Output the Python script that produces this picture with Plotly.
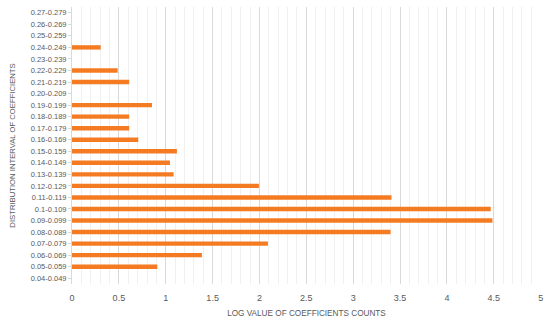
import plotly.graph_objects as go

categories = ["0.04-0.049", "0.05-0.059", "0.06-0.069", "0.07-0.079", "0.08-0.089",
              "0.09-0.099", "0.1-0.109", "0.11-0.119", "0.12-0.129", "0.13-0.139",
              "0.14-0.149", "0.15-0.159", "0.16-0.169", "0.17-0.179", "0.18-0.189",
              "0.19-0.199", "0.20-0.209", "0.21-0.219", "0.22-0.229", "0.23-0.239",
              "0.24-0.249", "0.25-0.259", "0.26-0.269", "0.27-0.279"]
values = [0, 0.91, 1.386, 2.09, 3.398,
          4.485, 4.467, 3.408, 1.994, 1.084,
          1.045, 1.119, 0.707, 0.61, 0.61,
          0.853, 0, 0.61, 0.487, 0,
          0.306, 0, 0, 0]
x_ticks = [0, 0.5, 1, 1.5, 2, 2.5, 3, 3.5, 4, 4.5, 5]
x_title = "LOG VALUE OF COEFFICIENTS COUNTS"
y_title = "DISTRIBUTION INTERVAL OF COEFFICIENTS"

fig = go.Figure(go.Bar(
    x=values, y=categories, orientation="h",
    marker=dict(color="#F47B22", line=dict(width=0)),
))

fig.update_layout(
    width=550, height=322,
    margin=dict(l=72, r=9, t=7, b=38),
    plot_bgcolor="white", paper_bgcolor="white",
    bargap=0.62,
    showlegend=False,
    font=dict(family="Liberation Sans", size=8, color="#595959"),
    xaxis=dict(
        range=[0, 5.003], tickvals=x_ticks, ticktext=[str(v) for v in x_ticks],
        showgrid=True, gridcolor="#d9d9d9", gridwidth=1,
        minor=dict(dtick=0.1, showgrid=True, gridcolor="#f0f0f0", gridwidth=1),
        zeroline=False, showline=False, ticks="",
        ticklabelstandoff=7,
        automargin=False,
        tickfont=dict(size=9, color="#595959"),
        title=dict(text=x_title, font=dict(size=8.2, color="#595959"), standoff=8),
    ),
    yaxis=dict(
        type="category", categoryorder="array", categoryarray=categories,
        showgrid=False, showline=True, linecolor="#d9d9d9", linewidth=1,
        ticks="outside", ticklen=3, tickcolor="#d9d9d9",
        automargin=False,
        tickfont=dict(size=7.5, color="#595959"),
        range=[-0.5, len(categories) - 0.5],
        title=dict(text=y_title, font=dict(size=7.7, color="#595959"), standoff=13),
    ),
)

fig.write_html("out.html", config={"displayModeBar": False},
               post_script="document.body.style.margin='0';")
